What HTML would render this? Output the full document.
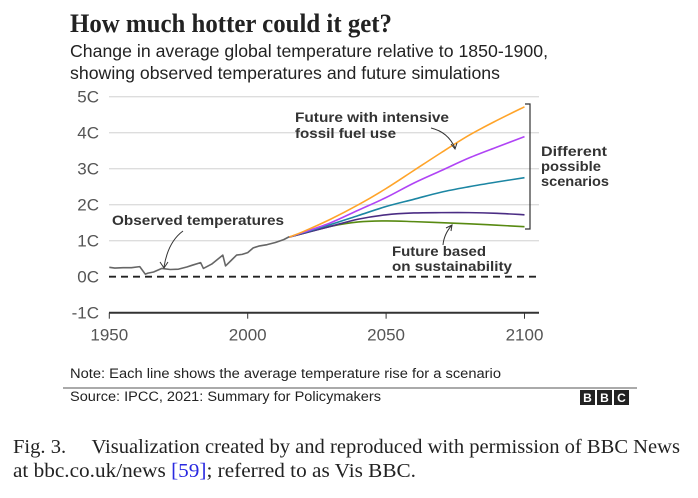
<!DOCTYPE html>
<html><head><meta charset="utf-8"><style>
body{margin:0;background:#fff;width:698px;height:498px;overflow:hidden}
svg{display:block}
.s{font-family:"Liberation Sans","DejaVu Sans",sans-serif}
</style></head><body>
<svg id="chart" width="698" height="498">
<text x="70" y="32" font-family="'Liberation Serif',serif" font-weight="600" font-size="26" fill="#222" textLength="322" lengthAdjust="spacingAndGlyphs">How much hotter could it get?</text>
<text class="s" x="70" y="57" font-size="17.5" fill="#222" textLength="478" lengthAdjust="spacingAndGlyphs">Change in average global temperature relative to 1850-1900,</text>
<text class="s" x="70" y="79" font-size="17.5" fill="#222" textLength="430" lengthAdjust="spacingAndGlyphs">showing observed temperatures and future simulations</text>
<g id="grid"></g>
<g id="lines"></g>
<g>
<text class="s" x="112" y="225" font-size="14" font-weight="bold" fill="#333" textLength="172" lengthAdjust="spacingAndGlyphs">Observed temperatures</text>
<path d="M183,231 Q168,242 164,267" fill="none" stroke="#333" stroke-width="1"/>
<path d="M160,262 L164,268 L168,262" fill="none" stroke="#333" stroke-width="1"/>
<text class="s" x="295" y="122" font-size="14" font-weight="bold" fill="#333" textLength="154" lengthAdjust="spacingAndGlyphs">Future with intensive</text>
<text class="s" x="295" y="138" font-size="14" font-weight="bold" fill="#333" textLength="101" lengthAdjust="spacingAndGlyphs">fossil fuel use</text>
<path d="M431,128 Q448,132 455,148" fill="none" stroke="#333" stroke-width="1"/>
<path d="M451,144 L455,149 L457,143" fill="none" stroke="#333" stroke-width="1"/>
<text class="s" x="392" y="256" font-size="14" font-weight="bold" fill="#333" textLength="94" lengthAdjust="spacingAndGlyphs">Future based</text>
<text class="s" x="392" y="271" font-size="14" font-weight="bold" fill="#333" textLength="120" lengthAdjust="spacingAndGlyphs">on sustainability</text>
<path d="M443,245 Q444,234 452,225" fill="none" stroke="#333" stroke-width="1"/>
<path d="M446,228 L452,225 L451,231" fill="none" stroke="#333" stroke-width="1"/>
<path d="M525,104 L530,104 L530,229 L525,229" fill="none" stroke="#333" stroke-width="1.2"/>
<text class="s" x="541" y="156" font-size="14" font-weight="bold" fill="#333" textLength="66" lengthAdjust="spacingAndGlyphs">Different</text>
<text class="s" x="541" y="171" font-size="14" font-weight="bold" fill="#333" textLength="60" lengthAdjust="spacingAndGlyphs">possible</text>
<text class="s" x="541" y="186" font-size="14" font-weight="bold" fill="#333" textLength="68" lengthAdjust="spacingAndGlyphs">scenarios</text>
</g>
<text class="s" x="70" y="378" font-size="13.5" fill="#222" textLength="431" lengthAdjust="spacingAndGlyphs">Note: Each line shows the average temperature rise for a scenario</text>
<line x1="63" y1="388" x2="637" y2="388" stroke="#555" stroke-width="1"/>
<text class="s" x="70" y="401" font-size="13.5" fill="#222" textLength="311" lengthAdjust="spacingAndGlyphs">Source: IPCC, 2021: Summary for Policymakers</text>
<g font-family="'Liberation Sans',sans-serif" font-weight="bold" font-size="12" fill="#fff" text-anchor="middle">
<rect x="580" y="390" width="15" height="15" fill="#222"/><text x="587.5" y="402">B</text>
<rect x="597" y="390" width="15" height="15" fill="#222"/><text x="604.5" y="402">B</text>
<rect x="614" y="390" width="15" height="15" fill="#222"/><text x="621.5" y="402">C</text>
</g>
<g font-family="'Liberation Serif',serif" font-size="20" fill="#222">
<text x="13" y="453" textLength="667" lengthAdjust="spacingAndGlyphs">Fig. 3.&#160;&#160;&#160;&#160; Visualization created by and reproduced with permission of BBC News</text>
<text x="13" y="477" textLength="403" lengthAdjust="spacingAndGlyphs">at bbc.co.uk/news <tspan fill="#2a2ae0">[59]</tspan>; referred to as Vis BBC.</text>
</g>
</svg>
<script>
const yTicks=[-1,0,1,2,3,4,5];
const yTickLabels=["-1C","0C","1C","2C","3C","4C","5C"];
const xTicks=[1950,2000,2050,2100];
const obsYears=[1950,1952,1955,1958,1961,1963,1964,1966,1969,1972,1975,1978,1980,1983,1984,1987,1991,1992,1994,1996,1998,2000,2002,2004,2007,2010,2013,2015];
const obsTemps=[0.26,0.24,0.25,0.25,0.28,0.07,0.1,0.13,0.23,0.2,0.21,0.27,0.32,0.39,0.23,0.35,0.6,0.3,0.45,0.6,0.62,0.67,0.8,0.85,0.89,0.95,1.03,1.11];
const futYears=[2015,2020,2030,2040,2050,2060,2070,2080,2090,2100];
const orange=[1.1,1.25,1.6,2.0,2.45,2.95,3.45,3.93,4.34,4.72];
const purple=[1.1,1.23,1.5,1.85,2.2,2.6,2.95,3.3,3.6,3.89];
const teal=[1.1,1.22,1.45,1.7,1.95,2.15,2.35,2.5,2.63,2.75];
const darkPurple=[1.1,1.2,1.4,1.6,1.72,1.77,1.78,1.78,1.76,1.72];
const green=[1.1,1.2,1.4,1.52,1.55,1.53,1.5,1.47,1.43,1.39];

const NS="http://www.w3.org/2000/svg";
const X=y=>109.3+(y-1950)*(138.4/50);
const Y=t=>276.7-t*36;
function mk(tag,at,parent){const e=document.createElementNS(NS,tag);for(const k in at)e.setAttribute(k,at[k]);parent.appendChild(e);return e;}
const grid=document.getElementById('grid'), lines=document.getElementById('lines');
yTicks.forEach((t,i)=>{
  if(t>0){const l=mk('line',{x1:109,x2:539,y1:Y(t),y2:Y(t),stroke:'#ddd','stroke-width':1.3},grid);
  
  }
  const tx=mk('text',{x:99,y:Y(t)+6,'text-anchor':'end','font-size':17,fill:'#555','font-family':'Liberation Sans,sans-serif'},grid);
  tx.textContent=yTickLabels[i];
  
  
});
const zl=mk('line',{x1:109,x2:539,y1:Y(0),y2:Y(0),stroke:'#222','stroke-width':1.8,'stroke-dasharray':'7,5'},grid);


const ax=mk('line',{x1:109,x2:539,y1:Y(-1),y2:Y(-1),stroke:'#333','stroke-width':2},grid);


xTicks.forEach(v=>{
  const tk=mk('line',{x1:X(v),x2:X(v),y1:Y(-1),y2:Y(-1)+6,stroke:'#333','stroke-width':1},grid);
  
  
  const tx=mk('text',{x:X(v),y:Y(-1)+28,'text-anchor':'middle','font-size':17,fill:'#555','font-family':'Liberation Sans,sans-serif'},grid);
  tx.textContent=v;
  
  
});
function smooth(pts){
  let d='M'+pts[0][0]+','+pts[0][1];
  for(let i=0;i<pts.length-1;i++){
    const p0=pts[Math.max(0,i-1)],p1=pts[i],p2=pts[i+1],p3=pts[Math.min(pts.length-1,i+2)];
    const c1=[p1[0]+(p2[0]-p0[0])/6,p1[1]+(p2[1]-p0[1])/6];
    const c2=[p2[0]-(p3[0]-p1[0])/6,p2[1]-(p3[1]-p1[1])/6];
    d+=' C'+c1.join(',')+' '+c2.join(',')+' '+p2.join(',');
  }
  return d;
}
function line(xs,ys,color,name,w,curve){
  const pts=xs.map((x,i)=>[X(x),Y(ys[i])]);
  const d=curve?smooth(pts):'M'+pts.map(p=>p.join(',')).join(' L');
  const p=mk('path',{d:d,fill:'none',stroke:color,'stroke-width':w,'stroke-linejoin':'round'},lines);
  
  
}
line(obsYears,obsTemps,'#666','observed-line',1.6,false);
line(futYears,green,'#588a12','scenario-sustainability',1.6,true);
line(futYears,darkPurple,'#4b2d84','scenario-low',1.6,true);
line(futYears,teal,'#1c86a3','scenario-medium',1.6,true);
line(futYears,purple,'#b044f5','scenario-high',1.6,true);
line(futYears,orange,'#ffa42a','scenario-intensive',1.6,true);
</script>
</body></html>
